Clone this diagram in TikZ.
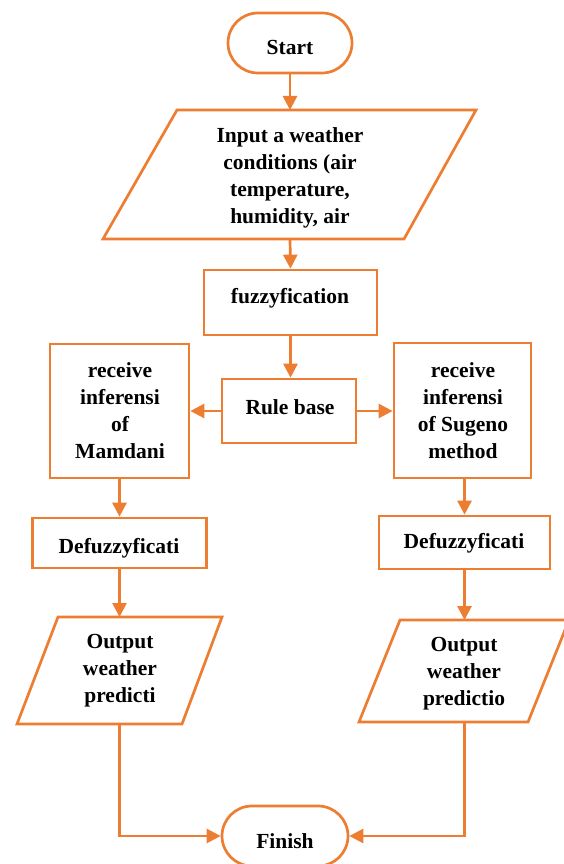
\documentclass[tikz,border=0pt]{standalone}
\usepackage{fontspec}
\setmainfont{Liberation Serif}
\usetikzlibrary{arrows.meta,shapes.misc}
\definecolor{orng}{HTML}{ED7D31}
\begin{document}
\begin{tikzpicture}[x=1pt,y=-1pt,
  line/.style={draw=orng,line width=2.7pt},
  arr/.style={line,-{Triangle[length=14pt,width=14pt]}},
  txt/.style={font=\fontsize{21.5}{27}\selectfont\bfseries,align=center,inner sep=0pt},
  box/.style={line,rectangle,inner sep=0pt},
  term/.style={line,rounded rectangle,inner sep=0pt}]
\useasboundingbox (0,0) rectangle (564,864);
% terminals
\node[term,minimum width=124pt,minimum height=60pt] (start) at (290,43) {};
\node[term,minimum width=126pt,minimum height=60pt] (finish) at (285,836) {};
% input parallelogram
\draw[line] (177,110) -- (476,110) -- (404,239) -- (103,239) -- cycle;
\coordinate (intop) at (290,110);
\coordinate (inbot) at (290,239);
% boxes
\node[box,minimum width=173pt,minimum height=65pt] (fuzz) at (290.5,302.5) {};
\node[box,minimum width=134pt,minimum height=64pt] (rule) at (289,411) {};
\node[box,minimum width=139pt,minimum height=134pt] (mam) at (119.5,411) {};
\node[box,minimum width=137pt,minimum height=135pt] (sug) at (462.5,410.5) {};
\node[box,minimum width=174pt,minimum height=50pt] (defl) at (119.5,543) {};
\node[box,minimum width=171pt,minimum height=53pt] (defr) at (464.5,542.5) {};
% output parallelograms
\draw[line] (58,617) -- (222,617) -- (182,724) -- (17,724) -- cycle;
\coordinate (outltop) at (119.5,617);
\coordinate (outlbot) at (119.5,724);
\draw[line] (400,620) -- (569,620) -- (528,722) -- (359,722) -- cycle;
\coordinate (outrtop) at (464.5,620);
\coordinate (outrbot) at (464.5,722);
% texts
\node[txt] (tstart) at (290,47) {Start};
\node[txt] (tin) at (290,178) {Input a weather\\conditions (air\\temperature,\\humidity, air};
\node[txt] (tfuzz) at (290,298) {fuzzyfication};
\node[txt] (trule) at (290,407) {Rule base};
\node[txt] (tmam) at (120,411) {receive\\inferensi\\of\\Mamdani};
\node[txt] (tsug) at (463,411) {receive\\inferensi\\of Sugeno\\method};
\node[txt] (tdefl) at (119,548) {Defuzzyficati};
\node[txt] (tdefr) at (464,543) {Defuzzyficati};
\node[txt] (toutl) at (120,671) {Output\\weather\\predicti};
\node[txt] (toutr) at (464,674) {Output\\weather\\predictio};
\node[txt] (tfin) at (285,841) {Finish};
% connectors
\draw[arr] (start.south) -- (intop);
\draw[arr] (inbot) -- (fuzz.south |- fuzz.north);
\draw[arr] (fuzz.south) -- (fuzz.south |- rule.north);
\draw[arr] (rule.west) -- (rule.west -| mam.east);
\draw[arr] (rule.east) -- (rule.east -| sug.west);
\draw[arr] (mam.south) -- (mam.south |- defl.north);
\draw[arr] (sug.south -| defr.north) -- (defr.north);
\draw[arr] (defl.south) -- (outltop);
\draw[arr] (defr.south) -- (outrtop);
\draw[arr] (outlbot) |- (finish.west);
\draw[arr] (outrbot) |- (finish.east);
\end{tikzpicture}
\end{document}
